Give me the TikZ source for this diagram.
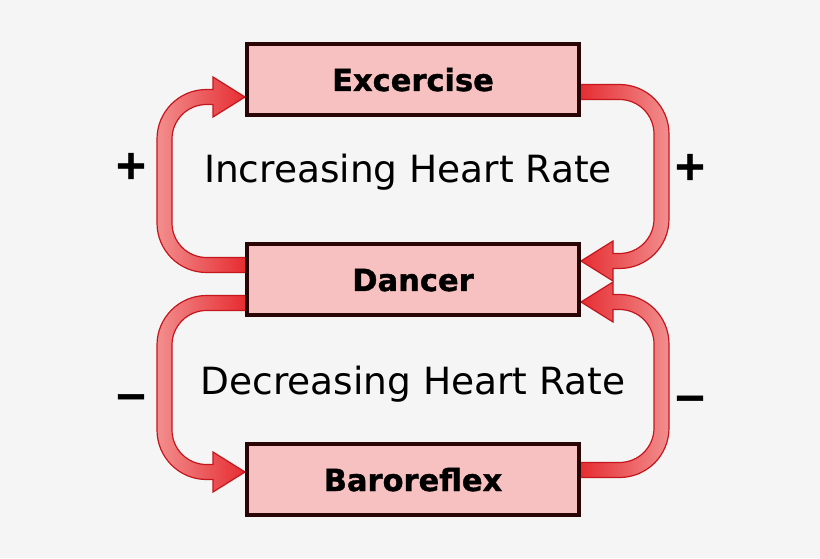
\documentclass[tikz,border=0pt]{standalone}
\usepackage{fontspec}
\setmainfont{DejaVu Sans}
\newfontfamily\heavyfont[FakeBold=1.2]{DejaVu Sans Bold}
\definecolor{bg}{HTML}{F5F5F5}
\definecolor{boxfill}{HTML}{F7C1C1}
\definecolor{boxline}{HTML}{2A0505}
\definecolor{arrlight}{HTML}{F28E8E}
\definecolor{arrdark}{HTML}{E5282D}
\definecolor{arredge}{HTML}{C4161C}
\pgfdeclarelayer{back}
\pgfdeclarelayer{arrows}
\pgfsetlayers{back,arrows,main}
\tikzset{
  box/.style={draw=boxline, line width=4pt, fill=boxfill, minimum width=332pt,
    minimum height=71pt, inner sep=0pt, outer sep=0pt, text height=23pt, text depth=0pt,
    font=\fontsize{30.5}{36}\heavyfont},
  lbl/.style={font=\fontsize{37.5}{44}\selectfont, inner sep=0pt, anchor=base},
  sign/.style={font=\fontsize{41}{48}\heavyfont, inner sep=0pt},
  loopshade/.style={left color=arrlight, right color=arrdark},
  looparrow/.style={loopshade, draw=arredge, line width=1.2pt},
  pics/uloop/.style={code={
    \shadedraw[looparrow] (3,-7.5) -- (-40.5,-7.5)
      arc[start angle=270,end angle=180,radius=49.5pt] -- (-90,#1-42)
      arc[start angle=180,end angle=90,radius=49.5pt] -- (-34,#1+7.5)
      -- (-34,#1+20) -- (-2,#1) -- (-34,#1-20) -- (-34,#1-7.5) -- (-40.5,#1-7.5)
      arc[start angle=90,end angle=180,radius=34.5pt] -- (-75,42)
      arc[start angle=180,end angle=270,radius=34.5pt] -- (3,7.5) -- cycle;
  }},
  mirrored/.style={xscale=-1, loopshade/.style={left color=arrdark, right color=arrlight}}
}
\begin{document}
\begin{tikzpicture}[x=1pt,y=1pt]
\begin{pgfonlayer}{back}
  \fill[bg] (0,0) rectangle (820,558);
\end{pgfonlayer}
\useasboundingbox (0,0) rectangle (820,558);
\node[box] (ex) at (413,478.5) {Excercise};
\node[box] (da) at (413,278.5) {Dancer};
\node[box] (ba) at (413,78.5) {Baroreflex};
\begin{pgfonlayer}{arrows}
  \pic at ([yshift=14.5pt]da.west) {uloop=168};
  \pic[yscale=-1] at ([yshift=-23.5pt]da.west) {uloop=169};
  \pic[mirrored,yscale=-1] at ([yshift=-12.5pt]ex.east) {uloop=169};
  \pic[mirrored] at ([yshift=9.5pt]ba.east) {uloop=168};
\end{pgfonlayer}
\node[lbl] (inc) at (408,375) {Increasing Heart Rate};
\node[lbl] (dec) at (413,164) {Decreasing Heart Rate};
\node[sign] (p1) at (131,392) {+};
\node[sign] (p2) at (690,391) {+};
\node[sign] (m1) at (131,156) {−};
\node[sign] (m2) at (690,154.5) {−};
\end{tikzpicture}
\end{document}
